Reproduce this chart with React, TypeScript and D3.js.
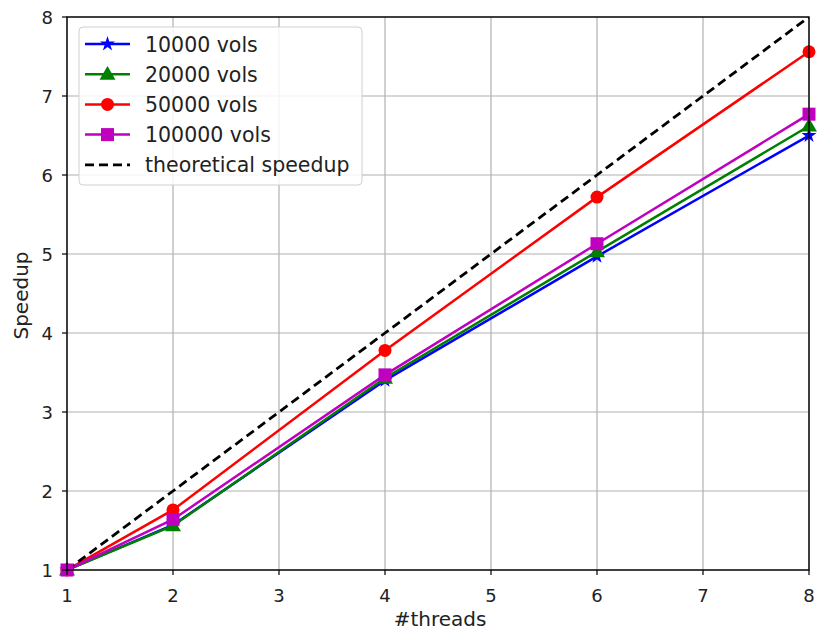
import React from "react";
import * as d3 from "d3";

const threads = [1, 2, 4, 6, 8];
const vols10k = [1, 1.57, 3.4, 4.97, 6.5];
const vols20k = [1, 1.56, 3.43, 5.03, 6.62];
const vols50k = [1, 1.76, 3.78, 5.72, 7.56];
const vols100k = [1, 1.64, 3.47, 5.13, 6.77];
const theoretical = [1, 2, 4, 6, 8];
const xTicks = [1, 2, 3, 4, 5, 6, 7, 8];
const yTicks = [1, 2, 3, 4, 5, 6, 7, 8];

const seriesList = [
    { name: "10000 vols", values: vols10k, color: "#0000ff", marker: "star", dash: null },
    { name: "20000 vols", values: vols20k, color: "#008000", marker: "triangle", dash: null },
    { name: "50000 vols", values: vols50k, color: "#ff0000", marker: "circle", dash: null },
    { name: "100000 vols", values: vols100k, color: "#bf00bf", marker: "square", dash: null },
    { name: "theoretical speedup", values: theoretical, color: "#000000", marker: null, dash: "9,5" },
];

const width = 819;
const height = 632;
const marginLeft = 67;
const marginRight = 10;
const marginTop = 17;
const marginBottom = 62;
const font = "DejaVu Sans, sans-serif";

function Marker({ type, x, y, color }) {
    if (type === "circle") return <circle cx={x} cy={y} r={6.5} fill={color} />;
    if (type === "square") return <rect x={x - 6.5} y={y - 6.5} width={13} height={13} fill={color} />;
    if (type === "triangle") {
        const p = d3.symbol(d3.symbolTriangle, 110)();
        return <path d={p} transform={`translate(${x},${y + 1})`} fill={color} />;
    }
    if (type === "star") {
        const p = d3.symbol(d3.symbolStar, 70)();
        return <path d={p} transform={`translate(${x},${y})`} fill={color} />;
    }
    return null;
}

export default function App() {
    const x = d3.scaleLinear().domain([1, 8]).range([marginLeft, width - marginRight]);
    const y = d3.scaleLinear().domain([1, 8]).range([height - marginBottom, marginTop]);
    const line = d3.line<number>().x((d, i) => x(threads[i])).y((d) => y(d));

    const legendX = 79;
    const legendY = 27;
    const rowH = 30.2;

    return (
        <svg width={width} height={height} style={{ position: "absolute", left: 0, top: 0, background: "#fff" }}
            fontFamily={font}>
            <defs>
                <clipPath id="plot">
                    <rect x={marginLeft} y={marginTop} width={x(8) - x(1)} height={y(1) - y(8)} />
                </clipPath>
            </defs>
            {/* grid */}
            {xTicks.map((t) => (
                <line key={"gx" + t} x1={x(t)} x2={x(t)} y1={y(1)} y2={y(8)} stroke="#b0b0b0" strokeWidth={1.2} />
            ))}
            {yTicks.map((t) => (
                <line key={"gy" + t} x1={x(1)} x2={x(8)} y1={y(t)} y2={y(t)} stroke="#b0b0b0" strokeWidth={1.2} />
            ))}
            {/* series */}
            <g clipPath="url(#plot)">
                {seriesList.map((s) => (
                    <path key={s.name} d={line(s.values)} fill="none" stroke={s.color}
                        strokeWidth={s.dash ? 2.8 : 2.5} strokeDasharray={s.dash || undefined} />
                ))}
            </g>
            {seriesList.map((s) =>
                s.marker ? s.values.map((v, i) => (
                    <Marker key={s.name + i} type={s.marker} x={x(threads[i])} y={y(v)} color={s.color} />
                )) : null
            )}
            {/* frame */}
            <rect x={x(1)} y={y(8)} width={x(8) - x(1)} height={y(1) - y(8)} fill="none" stroke="#000" strokeWidth={1.4} />
            {/* ticks */}
            {xTicks.map((t) => (
                <g key={"tx" + t}>
                    <line x1={x(t)} x2={x(t)} y1={y(1)} y2={y(1) + 5} stroke="#000" strokeWidth={1.2} />
                    <text x={x(t)} y={y(1) + 32} textAnchor="middle" fontSize={18} fill="#222">{t}</text>
                </g>
            ))}
            {yTicks.map((t) => (
                <g key={"ty" + t}>
                    <line x1={x(1) - 5} x2={x(1)} y1={y(t)} y2={y(t)} stroke="#000" strokeWidth={1.2} />
                    <text x={x(1) - 14} y={y(t) + 6.5} textAnchor="end" fontSize={18} fill="#222">{t}</text>
                </g>
            ))}
            <text x={(x(1) + x(8)) / 2 + 2} y={626} textAnchor="middle" fontSize={20} fill="#222">#threads</text>
            <text transform={`translate(28,${(y(1) + y(8)) / 2 + 2}) rotate(-90)`} textAnchor="middle" fontSize={20} fill="#222">Speedup</text>
            {/* legend */}
            <rect x={legendX} y={legendY} width={283} height={158} rx={4} fill="#fff" fillOpacity={0.85}
                stroke="#d0d0d0" strokeWidth={1} />
            {seriesList.map((s, i) => {
                const ly = legendY + 17 + i * rowH;
                return (
                    <g key={"lg" + s.name}>
                        <line x1={85} x2={130} y1={ly} y2={ly} stroke={s.color} strokeWidth={s.dash ? 2.8 : 2.5}
                            strokeDasharray={s.dash || undefined} />
                        {s.marker && <Marker type={s.marker} x={107.5} y={ly} color={s.color} />}
                        <text x={145} y={ly + 7.5} fontSize={20.5} fill="#222">{s.name}</text>
                    </g>
                );
            })}
        </svg>
    );
}
